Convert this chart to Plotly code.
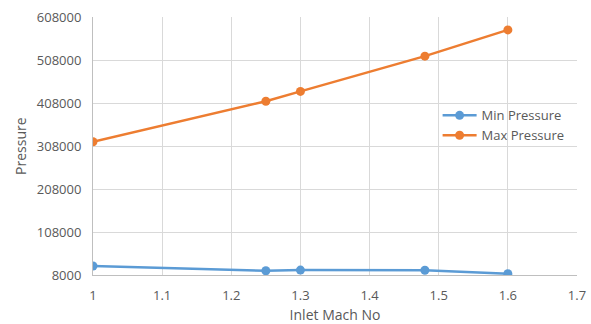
import plotly.graph_objects as go

mach = [1.0, 1.25, 1.3, 1.48, 1.6]
min_pressure = [29000, 18000, 19500, 19000, 11000]
max_pressure = [318000, 412000, 435000, 517000, 578000]
y_ticks = [8000, 108000, 208000, 308000, 408000, 508000, 608000]
x_ticks = [1, 1.1, 1.2, 1.3, 1.4, 1.5, 1.6, 1.7]

fig = go.Figure()
fig.add_trace(go.Scatter(x=mach, y=min_pressure, name="Min Pressure", mode="lines+markers",
                         line=dict(color="#5B9BD5", width=2.5), marker=dict(size=9, color="#5B9BD5")))
fig.add_trace(go.Scatter(x=mach, y=max_pressure, name="Max Pressure", mode="lines+markers",
                         line=dict(color="#ED7D31", width=2.5), marker=dict(size=9, color="#ED7D31")))

fig.update_layout(
    width=591, height=324,
    margin=dict(l=93, r=14, t=17, b=49, autoexpand=False),
    paper_bgcolor="white", plot_bgcolor="white",
    font=dict(family="Open Sans, Liberation Sans, sans-serif", color="#595959", size=13),
    legend=dict(x=0.712, y=0.58, xanchor="left", yanchor="middle", bgcolor="rgba(0,0,0,0)",
                font=dict(size=13, color="#595959"), itemwidth=34, tracegroupgap=6),
    xaxis=dict(range=[1, 1.7], tickvals=x_ticks, ticktext=[str(v) for v in x_ticks],
               showgrid=True, gridcolor="#D9D9D9", showline=True, linecolor="#BFBFBF",
               zeroline=False, ticks="", ticklabelstandoff=8, automargin=False,
               title=dict(text="Inlet Mach No", font=dict(size=14, color="#595959"))),
    yaxis=dict(range=[8000, 608000], tickvals=y_ticks, ticktext=[str(v) for v in y_ticks],
               showgrid=True, gridcolor="#D9D9D9", showline=True, linecolor="#BFBFBF",
               zeroline=False, ticks="", ticklabelstandoff=8, automargin=False),
    annotations=[dict(text="Pressure", xref="paper", yref="paper", x=-0.151, y=0.5,
                      xanchor="center", yanchor="middle", textangle=-90, showarrow=False,
                      font=dict(size=14, color="#595959"))],
)
fig.write_html("out.html")
